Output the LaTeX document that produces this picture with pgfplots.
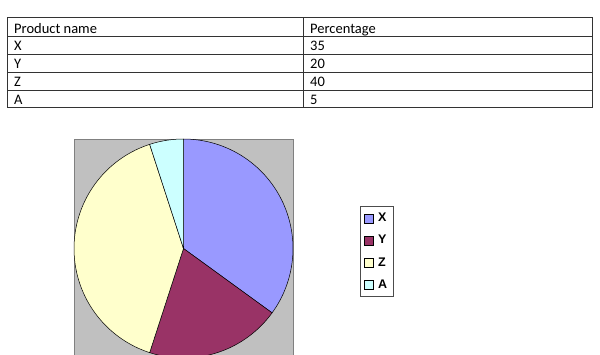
\documentclass[border=0pt]{standalone}
\usepackage{pgfplots}
\pgfplotsset{compat=1.18}
\usepackage{fontspec}
\setmainfont{Carlito}
\newfontfamily\legfont{Liberation Sans}
\definecolor{pX}{HTML}{9999FF}
\definecolor{pY}{HTML}{993366}
\definecolor{pZ}{HTML}{FFFFCC}
\definecolor{pA}{HTML}{CCFFFF}
\definecolor{bg}{HTML}{C0C0C0}
\begin{document}
\begin{tikzpicture}[x=1pt,y=1pt]
\useasboundingbox (0,0) rectangle (600,354);
\clip (0,0) rectangle (600,354);
% table
\draw[black!80, line width=0.8pt] (7,354-17.5) rectangle (592,354-107.5);
\foreach \yy in {36.5,54.5,72.5,90.5} \draw[black!80, line width=0.8pt] (7,354-\yy) -- (592,354-\yy);
\draw[black!80, line width=0.8pt] (303,354-17.5) -- (303,354-107.5);
\begin{scope}[every node/.style={anchor=base west, inner sep=0pt, font=\fontsize{14.5}{14.5}\selectfont}]
\node at (14,354-33.5) {Product name};
\node at (310,354-33.5) {Percentage};
\node at (14,354-50.5) {X};   \node at (310,354-50.5) {35};
\node at (14,354-68.5) {Y};   \node at (310,354-68.5) {20};
\node at (14,354-86.5) {Z};   \node at (310,354-86.5) {40};
\node at (14,354-104.5) {A};  \node at (310,354-104.5) {5};
\end{scope}
\begin{axis}[
  at={(74pt,-4pt)}, anchor=south west,
  scale only axis, width=219pt, height=219pt,
  xmin=-1, xmax=1, ymin=-1, ymax=1,
  xtick=\empty, ytick=\empty,
  axis line style={draw=black!50},
  axis background/.style={fill=bg},
  clip=false,
  legend image code/.code={\draw[#1] (0pt,-4.5pt) rectangle (9pt,4.5pt);},
  legend style={at={(1.306,0.694)}, anchor=north west, draw=black!70,
    font=\legfont\bfseries\fontsize{12.5}{12.5}\selectfont, inner xsep=3.5pt, inner ysep=5pt,
    row sep=8pt, column sep=0pt, cells={anchor=west},
    /tikz/every odd column/.append style={column sep=3pt}},
]
% X = 35 %, Y = 20 %, Z = 40 %, A = 5 %, clockwise from 12 o'clock
\addplot[fill=pX, draw=black, line width=0.5pt, domain=90:-36, samples=80, variable=\t] ({cos(\t)},{sin(\t)}) -- (axis cs:0,0) -- cycle;
\addlegendentry{X}
\addplot[fill=pY, draw=black, line width=0.5pt, domain=-36:-108, samples=50, variable=\t] ({cos(\t)},{sin(\t)}) -- (axis cs:0,0) -- cycle;
\addlegendentry{Y}
\addplot[fill=pZ, draw=black, line width=0.5pt, domain=-108:-252, samples=90, variable=\t] ({cos(\t)},{sin(\t)}) -- (axis cs:0,0) -- cycle;
\addlegendentry{Z}
\addplot[fill=pA, draw=black, line width=0.5pt, domain=-252:-270, samples=20, variable=\t] ({cos(\t)},{sin(\t)}) -- (axis cs:0,0) -- cycle;
\addlegendentry{A}
\end{axis}
\end{tikzpicture}
\end{document}
